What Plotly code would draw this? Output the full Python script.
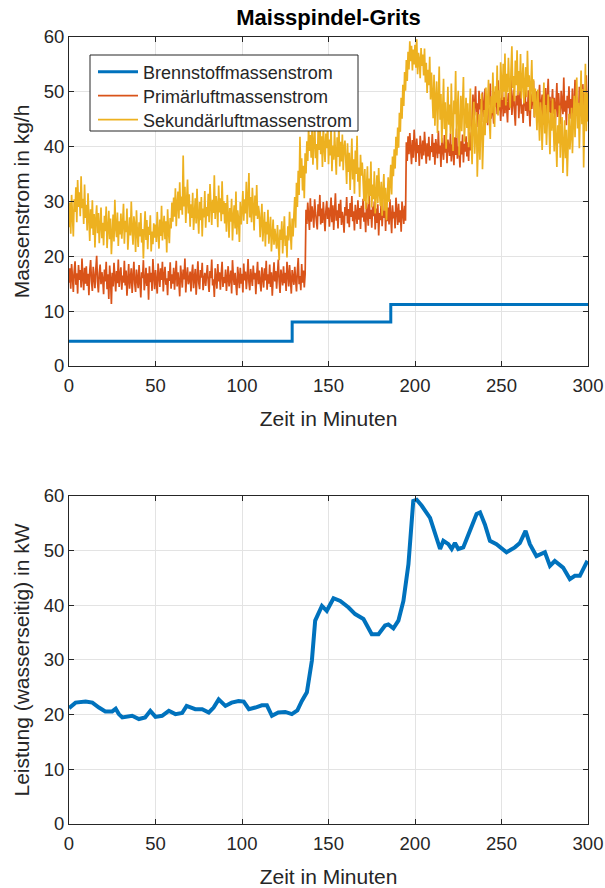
import plotly.graph_objects as go

# ---------------- data ----------------
# Sampling interval of the air mass flows: 0.5 minutes, starting at t = 0
sample_step_min = 0.5

primaerluft = [
    15.2, 17.8, 14.1, 18.6, 16.3, 13.5, 17.2, 19.1, 14.8, 16.9, 13.2, 18.4, 15.7, 17.5, 14.3, 19.6, 16.1, 13.8, 17.9, 15.0,
    18.2, 14.6, 16.8, 12.9, 17.4, 19.3, 15.5, 13.7, 18.1, 16.4, 14.2, 17.7, 20.1, 15.3, 13.4, 16.9, 18.5, 14.9, 17.1, 15.8,
    13.1, 17.6, 15.4, 19.0, 14.0, 16.7, 12.2, 18.3, 15.9, 11.3, 17.0, 14.5, 18.8, 16.2, 13.6, 17.3, 15.1, 19.4, 14.4, 16.6,
    18.0, 13.9, 16.5, 15.2, 19.2, 14.7, 17.4, 12.8, 16.0, 18.6, 14.1, 15.7, 17.8, 13.3, 16.8, 19.0, 15.0, 13.5, 17.6, 16.3,
    14.2, 18.4, 15.6, 12.5, 17.1, 16.0, 19.3, 13.8, 15.4, 17.9, 14.6, 16.9, 12.1, 18.2, 15.3, 17.0, 13.7, 19.5, 16.4, 14.0,
    17.5, 15.1, 13.2, 18.7, 16.2, 14.4, 17.8, 15.7, 19.0, 13.6, 16.5, 18.1, 14.8, 16.0, 12.9, 17.3, 15.5, 18.9, 14.1, 16.7,
    15.0, 17.9, 13.9, 16.6, 19.2, 14.5, 17.1, 15.4, 12.7, 18.3, 16.1, 14.3, 17.6, 15.8, 19.6, 13.4, 16.3, 18.0, 14.9, 15.6,
    17.2, 13.6, 16.8, 18.5, 14.2, 15.9, 17.7, 13.0, 16.4, 19.1, 15.2, 14.0, 17.5, 16.1, 18.8, 13.8, 15.7, 17.0, 14.6, 16.9,
    18.4, 15.3, 13.5, 17.3, 16.0, 19.4, 14.7, 15.8, 12.6, 17.8, 16.5, 14.1, 18.6, 15.4, 17.1, 13.9, 16.7, 19.0, 14.4, 16.2,
    15.1, 17.6, 13.7, 16.9, 18.2, 14.5, 15.9, 17.4, 13.2, 19.3, 16.3, 14.8, 17.0, 15.5, 12.9, 18.1, 16.6, 14.2, 17.9, 15.0,
    16.8, 13.4, 18.7, 15.6, 17.2, 14.0, 16.1, 19.5, 15.3, 13.8, 17.7, 16.4, 14.6, 18.3, 15.8, 17.0, 13.1, 16.5, 19.0, 14.9,
    17.4, 15.2, 13.6, 18.0, 16.2, 14.3, 17.8, 15.6, 19.2, 13.9, 16.7, 15.0, 18.5, 14.4, 17.1, 12.8, 16.0, 18.9, 15.4, 17.3,
    14.1, 16.9, 19.4, 15.5, 13.3, 17.6, 16.3, 14.7, 18.2, 15.1, 17.0, 13.7, 19.0, 16.6, 14.5, 18.4, 15.9, 13.2, 17.5, 16.1,
    14.8, 18.1, 15.7, 13.6, 17.3, 19.7, 14.9, 16.4, 13.8, 18.6, 15.2, 17.4, 14.3, 16.8, 28.5, 25.9, 29.8, 27.1, 24.8, 30.6,
    26.3, 29.1, 27.8, 25.2, 30.4, 28.0, 26.6, 24.9, 29.5, 27.3, 31.2, 25.8, 28.7, 26.1, 29.9, 27.5, 24.6, 28.3, 30.1, 26.8,
    28.9, 25.4, 27.7, 30.7, 26.2, 29.3, 24.8, 27.9, 31.5, 26.5, 28.4, 25.1, 29.6, 27.0, 30.3, 25.7, 28.1, 26.9, 24.3, 29.0,
    27.4, 30.8, 26.0, 28.6, 25.3, 29.7, 27.2, 31.0, 26.4, 28.2, 24.7, 29.4, 27.6, 25.9, 30.2, 26.7, 28.8, 25.0, 29.2, 27.1,
    30.5, 26.3, 28.0, 24.4, 29.8, 27.5, 25.6, 31.3, 26.8, 28.5, 25.2, 29.1, 27.3, 30.0, 24.9, 28.7, 26.1, 29.5, 23.8, 27.9,
    26.6, 30.1, 25.5, 28.3, 27.0, 31.1, 24.6, 29.0, 26.4, 28.9, 25.8, 30.4, 27.2, 24.2, 29.3, 26.9, 28.1, 25.1, 30.7, 27.6,
    25.7, 29.6, 26.2, 28.4, 24.5, 30.0, 27.1, 25.9, 29.2, 26.5, 40.8, 37.4, 41.9, 38.6, 42.5, 39.1, 36.8, 41.2, 38.0, 43.1,
    39.6, 37.2, 41.5, 38.8, 40.3, 36.5, 42.0, 39.3, 37.7, 41.1, 38.4, 42.7, 39.9, 36.9, 40.6, 38.2, 41.8, 37.5, 40.1, 39.0,
    42.3, 38.1, 40.7, 36.7, 41.4, 39.5, 37.9, 42.9, 38.7, 40.2, 36.3, 41.6, 39.2, 37.6, 42.1, 38.9, 40.9, 37.0, 41.3, 39.8,
    38.3, 42.4, 37.3, 40.4, 39.7, 36.6, 41.7, 38.5, 43.3, 37.8, 40.0, 39.4, 36.2, 41.0, 38.6, 42.2, 37.1, 40.5, 39.1, 41.9,
    38.2, 40.8, 37.4, 42.6, 39.3, 41.1, 46.2, 49.5, 44.8, 48.3, 51.0, 45.7, 47.9, 43.6, 50.2, 46.8, 48.7, 44.5, 49.9, 47.1,
    45.4, 50.6, 46.9, 48.1, 43.9, 49.2, 47.6, 51.5, 45.1, 48.5, 46.3, 44.2, 50.0, 47.3, 49.6, 45.9, 52.1, 46.6, 48.9, 44.7,
    47.8, 50.8, 45.5, 49.0, 46.1, 51.7, 47.0, 44.4, 49.8, 46.7, 48.4, 52.3, 45.8, 48.0, 50.4, 46.4, 43.8, 49.3, 47.5, 51.2,
    45.2, 48.6, 50.9, 46.0, 47.7, 44.3, 49.4, 51.9, 46.5, 48.2, 45.6, 50.3, 47.2, 43.7, 49.7, 46.9, 48.8, 52.0, 45.3, 47.4,
    50.1, 46.2, 44.6, 48.5, 51.3, 45.7, 47.9, 49.5, 44.0, 48.1, 46.8, 50.7, 45.0, 47.6, 52.4, 46.3, 49.1, 44.9, 48.3, 50.5,
    46.0, 48.9, 43.5, 47.3, 51.6, 45.4, 49.8, 46.6, 44.1, 50.2, 47.7, 45.9, 52.6, 46.4, 48.4, 43.9, 49.3, 47.0, 51.0, 45.1,
    48.7, 46.1, 50.6, 44.4, 47.8, 52.2, 45.6, 49.0, 46.9, 43.6, 50.9, 47.4, 48.2, 44.8, 51.4, 46.5, 49.6, 45.3, 53.0, 47.1,
    48.5,
]

sekundaerluft = [
    25.3, 29.8, 24.1, 31.2, 27.5, 23.6, 30.4, 28.1, 32.6, 26.2, 33.9, 29.0, 31.7, 27.3, 34.6, 28.8, 30.5, 25.9, 33.1, 27.0,
    29.4, 24.7, 31.5, 26.3, 22.8, 28.6, 25.1, 30.2, 23.9, 27.7, 21.6, 26.8, 29.3, 24.2, 27.9, 22.4, 25.6, 28.9, 23.3, 26.1,
    22.0, 27.4, 24.6, 29.1, 21.5, 25.8, 28.3, 23.1, 26.9, 20.4, 24.8, 27.6, 22.7, 30.3, 25.2, 23.5, 28.0, 21.9, 26.4, 24.0,
    27.8, 23.2, 25.9, 29.6, 22.3, 26.5, 24.4, 28.7, 21.2, 25.5, 27.1, 23.8, 30.0, 24.9, 22.1, 27.3, 25.7, 20.8, 28.4, 24.3,
    21.7, 26.2, 23.6, 27.9, 22.5, 25.0, 19.6, 24.7, 28.2, 23.0, 26.6, 21.3, 25.4, 23.9, 27.5, 20.9, 24.5, 22.2, 26.0, 23.4,
    25.8, 22.6, 28.1, 24.2, 21.4, 26.7, 23.7, 29.2, 22.9, 25.3, 27.4, 23.1, 26.4, 20.7, 28.6, 24.6, 22.4, 27.0, 25.1, 29.8,
    26.3, 30.7, 27.2, 32.4, 25.5, 29.6, 31.8, 26.9, 33.5, 28.4, 30.9, 27.6, 38.4, 29.1, 32.7, 26.1, 30.2, 34.0, 27.8, 31.3,
    25.4, 29.5, 27.0, 31.6, 24.8, 28.2, 30.6, 26.0, 32.3, 27.4, 24.1, 29.9, 26.6, 30.8, 23.6, 28.7, 27.1, 31.9, 25.2, 29.0,
    27.3, 31.4, 26.2, 33.2, 28.5, 25.7, 30.3, 27.9, 34.8, 26.8, 31.0, 29.4, 25.3, 32.9, 28.0, 30.6, 26.4, 33.7, 27.7, 30.1,
    26.0, 29.7, 24.5, 31.2, 27.6, 23.4, 28.8, 26.3, 30.5, 22.9, 27.2, 29.3, 25.1, 31.8, 24.0, 28.4, 26.7, 22.6, 29.9, 25.8,
    28.3, 31.9, 26.5, 30.4, 27.8, 33.6, 25.9, 29.7, 35.2, 27.1, 30.8, 26.2, 32.5, 28.9, 24.7, 31.1, 27.4, 33.0, 26.8, 29.2,
    27.9, 23.5, 26.8, 29.6, 22.7, 25.4, 28.1, 21.8, 26.3, 24.0, 28.5, 22.3, 25.9, 27.2, 20.9, 24.6, 26.7, 22.1, 25.0, 23.3,
    21.4, 25.7, 22.6, 19.3, 24.9, 23.0, 26.4, 20.5, 24.1, 27.3, 21.9, 23.8, 19.8, 25.5, 22.9, 28.1, 24.4, 21.2, 26.9, 23.6,
    27.5, 30.8, 25.2, 33.4, 29.0, 35.6, 31.2, 41.8, 34.3, 37.9, 32.0, 36.5, 30.6, 38.8, 35.1, 41.0, 37.4, 43.5, 39.2, 42.1,
    38.0, 43.2, 36.7, 41.6, 44.6, 37.9, 40.5, 35.8, 42.9, 39.4, 45.3, 38.6, 41.9, 36.3, 43.8, 40.0, 37.2, 42.4, 39.7, 44.1,
    36.8, 41.3, 38.4, 43.5, 35.5, 40.2, 37.6, 42.8, 39.0, 34.9, 41.7, 38.1, 44.0, 36.4, 40.9, 37.3, 42.2, 35.7, 39.8, 41.1,
    37.5, 33.2, 40.6, 35.4, 38.9, 32.1, 36.8, 41.5, 34.0, 37.7, 31.4, 39.3, 35.0, 42.0, 33.6, 36.2, 30.8, 38.5, 34.7, 37.1,
    33.8, 30.1, 35.9, 28.6, 32.7, 36.4, 29.5, 34.2, 31.0, 37.3, 28.9, 33.1, 30.4, 35.5, 27.8, 32.0, 34.8, 29.7, 36.1, 31.5,
    29.2, 33.6, 27.4, 31.9, 35.0, 28.3, 32.5, 26.6, 30.8, 34.4, 29.9, 33.0, 36.7, 31.3, 38.2, 34.6, 39.5, 36.0, 41.8, 38.4,
    43.5, 39.8, 46.2, 42.7, 48.9, 45.1, 51.3, 47.4, 53.6, 50.2, 55.8, 52.0, 57.3, 54.1, 59.2, 55.6, 58.4, 53.9, 57.7, 55.0,
    58.6, 54.4, 59.6, 53.2, 57.1, 55.9, 52.5, 58.0, 54.7, 56.8, 53.0, 57.9, 51.7, 55.3, 49.8, 54.0, 51.2, 56.4, 48.6, 53.5,
    50.5, 45.2, 53.1, 43.8, 48.7, 51.9, 42.5, 47.3, 54.6, 44.9, 49.6, 40.7, 46.8, 52.4, 43.2, 48.1, 39.6, 45.5, 50.9, 44.0,
    47.7, 42.3, 51.5, 44.6, 39.2, 48.4, 45.9, 53.8, 41.6, 46.5, 50.2, 38.4, 44.1, 49.3, 42.8, 47.0, 52.7, 40.9, 45.6, 48.9,
    43.4, 47.9, 39.9, 45.2, 50.6, 41.2, 36.8, 44.7, 48.2, 38.7, 42.6, 46.3, 34.5, 41.8, 45.9, 37.6, 43.0, 49.7, 35.9, 42.2,
    46.7, 42.1, 50.8, 44.3, 48.6, 52.2, 45.0, 41.4, 49.2, 46.1, 53.5, 47.8, 43.6, 51.0, 48.0, 54.8, 45.7, 50.3, 47.2, 55.4,
    51.6, 48.5, 55.1, 50.0, 57.0, 47.5, 53.3, 49.9, 56.2, 51.4, 47.1, 54.0, 58.3, 50.7, 52.9, 48.3, 55.7, 51.2, 57.6, 49.4,
    53.8, 50.1, 56.9, 48.8, 52.6, 55.2, 47.9, 51.8, 54.5, 49.0, 57.5, 50.9, 53.0, 46.6, 51.5, 55.8, 48.2, 52.3, 45.4, 50.6,
    47.3, 43.0, 50.4, 44.5, 41.1, 48.1, 45.8, 39.4, 46.9, 51.7, 42.4, 47.6, 40.3, 45.1, 49.5, 43.7, 38.6, 46.2, 42.9, 48.8,
    44.2, 39.1, 46.8, 41.5, 36.3, 43.9, 40.6, 47.5, 38.0, 42.7, 45.4, 35.2, 41.3, 44.8, 37.9, 43.1, 34.6, 40.2, 46.0, 39.5,
    42.0, 47.1, 38.8, 44.4, 49.3, 41.7, 46.5, 52.6, 43.3, 48.0, 39.7, 45.9, 53.9, 44.1, 50.5, 36.2, 47.4, 55.1, 42.8, 49.8,
    44.6,
]

# Fuel mass flow: step levels (value holds from each time until the next)
brennstoff_zeit = [0, 129, 186, 300]
brennstoff_wert = [4.5, 8.0, 11.2, 11.2]

# Water-side power output
leistung_zeit = [
    0, 3.8, 9.6, 13.5, 17.3, 21, 25, 27, 28.8, 30.8, 36.5, 40.4, 44, 47, 50, 53.8, 57.7, 61.5, 65.4, 68,
    73, 77, 80.8, 83.6, 86.5, 90.4, 94, 98, 101, 104, 107.7, 111.5, 114.4, 117.3, 121, 125, 128.8, 132,
    134.6, 137.5, 140.4, 142.3, 146.2, 149, 152.9, 156.8, 161.6, 165.4, 170.2, 175, 178.9, 182.7, 184.6,
    187.5, 190.4, 193.3, 196.2, 199, 201, 203.9, 208.7, 211.6, 214.5, 216.4, 219.3, 221.2, 223.1, 225,
    227.9, 229.8, 232.7, 235.6, 237.6, 240.4, 243.3, 247.1, 252.9, 257.7, 260.6, 263.9, 266.4, 270.2,
    275.1, 278, 280.8, 285.6, 289.5, 292.4, 295.3, 299.1, 300,
]
leistung_wert = [
    21.2, 22.2, 22.4, 22.2, 21.3, 20.6, 20.6, 21.1, 20.1, 19.5, 19.8, 19.2, 19.5, 20.7, 19.6, 19.8, 20.7, 20.1, 20.3, 21.6,
    21.0, 21.0, 20.4, 21.3, 22.8, 21.6, 22.2, 22.5, 22.4, 21.0, 21.3, 21.7, 21.7, 19.8, 20.4, 20.5, 20.1, 20.8,
    22.5, 24.1, 29.9, 37.2, 39.9, 39.0, 41.3, 40.8, 39.6, 38.4, 37.5, 34.7, 34.7, 36.3, 36.5,
    35.8, 37.2, 40.8, 47.5, 59.1, 59.3, 58.2, 56.0, 53.0, 50.3, 51.8, 51.2, 50.3, 51.4, 50.3,
    50.6, 52.1, 54.5, 56.7, 57.0, 54.8, 51.8, 51.2, 49.7, 50.6, 51.4, 53.6, 51.2, 49.0,
    49.7, 47.2, 48.1, 46.9, 44.8, 45.4, 45.4, 47.8, 47.6,
]

x_ticks = [0, 50, 100, 150, 200, 250, 300]
y_ticks = [0, 10, 20, 30, 40, 50, 60]

# ---------------- figure ----------------
t_prim = [i * sample_step_min for i in range(len(primaerluft))]
t_sek = [i * sample_step_min for i in range(len(sekundaerluft))]

BLUE = "#0072BD"
ORANGE = "#D95319"
YELLOW = "#EDB120"
AX = "#262626"
GRID = "#e3e3e3"
FONT = "Liberation Sans, Arial, Helvetica, sans-serif"

fig = go.Figure()
fig.add_trace(go.Scatter(x=brennstoff_zeit, y=brennstoff_wert, mode="lines",
                         line=dict(color=BLUE, width=3, shape="hv"),
                         name="Brennstoffmassenstrom", legend="legend", xaxis="x", yaxis="y"))
fig.add_trace(go.Scatter(x=t_prim, y=primaerluft, mode="lines",
                         line=dict(color=ORANGE, width=1.7),
                         name="Primärluftmassenstrom", legend="legend2", xaxis="x", yaxis="y"))
fig.add_trace(go.Scatter(x=t_sek, y=sekundaerluft, mode="lines",
                         line=dict(color=YELLOW, width=1.7),
                         name="Sekundärluftmassenstrom", legend="legend3", xaxis="x", yaxis="y"))
fig.add_trace(go.Scatter(x=leistung_zeit, y=leistung_wert, mode="lines",
                         line=dict(color=BLUE, width=4),
                         name="Leistung", showlegend=False, xaxis="x2", yaxis="y2"))

common_x = dict(range=[0, 300], tickvals=x_ticks, showgrid=True, gridcolor=GRID, gridwidth=1,
                ticks="inside", ticklen=5, tickcolor=AX, showline=True, linecolor=AX, linewidth=1,
                mirror="ticks", zeroline=False, automargin=False, ticklabelstandoff=3,
                tickfont=dict(size=18.5, color=AX, family=FONT),
                title=dict(text="Zeit in Minuten", font=dict(size=21, color=AX, family=FONT), standoff=16))
common_y = dict(range=[0, 60], tickvals=y_ticks, showgrid=True, gridcolor=GRID, gridwidth=1,
                ticks="inside", ticklen=5, tickcolor=AX, showline=True, linecolor=AX, linewidth=1,
                mirror="ticks", zeroline=False, automargin=False,
                tickfont=dict(size=18.5, color=AX, family=FONT))

# One legend per entry (so the entries can sit as tightly as in the reference),
# all inside a single framed box.
H_PLOT = 888 - 37 - 64
W_PLOT = 605 - 69 - 17
def px_to_paper_y(py):
    return 1 - (py - 37) / H_PLOT
def px_to_paper_x(px):
    return (px - 69) / W_PLOT

legend_common = dict(xanchor="left", yanchor="middle", bgcolor="rgba(0,0,0,0)",
                     borderwidth=0, font=dict(size=18, color=AX, family=FONT),
                     itemwidth=40, x=px_to_paper_x(93))

fig.update_layout(
    width=605, height=888,
    margin=dict(l=69, r=17, t=37, b=64),
    paper_bgcolor="white", plot_bgcolor="white",
    font=dict(family=FONT, color=AX),
    title=dict(text="<b>Maisspindel-Grits</b>", x=0.5, xref="paper", xanchor="center",
               y=1 - 17 / 888, yref="container", yanchor="middle",
               font=dict(size=22, color="#000000", family=FONT)),
    xaxis=dict(domain=[0, 1], anchor="y", **common_x),
    yaxis=dict(domain=[0.582, 1], anchor="x",
               title=dict(text="Massenstrom in kg/h", font=dict(size=21, color=AX, family=FONT), standoff=8),
               **common_y),
    xaxis2=dict(domain=[0, 1], anchor="y2", **common_x),
    yaxis2=dict(domain=[0, 0.4168], anchor="x2",
                title=dict(text="Leistung (wasserseitig) in kW", font=dict(size=21, color=AX, family=FONT), standoff=8),
                **common_y),
    legend=dict(y=px_to_paper_y(72), **legend_common),
    legend2=dict(y=px_to_paper_y(96), **legend_common),
    legend3=dict(y=px_to_paper_y(120), **legend_common),
    shapes=[dict(type="rect", xref="paper", yref="paper", layer="above",
                 x0=px_to_paper_x(90), x1=px_to_paper_x(358),
                 y0=px_to_paper_y(131), y1=px_to_paper_y(55),
                 line=dict(color=AX, width=1), fillcolor="white")],
    showlegend=True,
)

fig.write_html("out.html", post_script="document.body.style.margin='0';",
               config={"displayModeBar": False})
